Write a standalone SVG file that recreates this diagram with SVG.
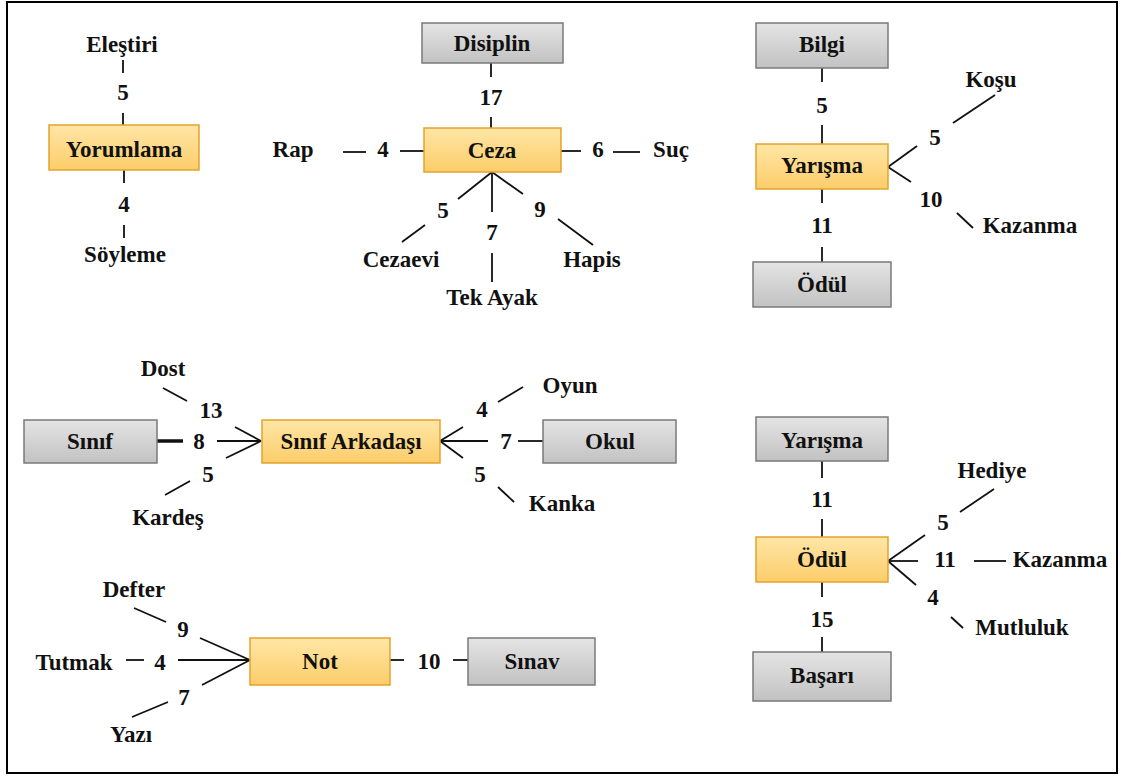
<svg xmlns="http://www.w3.org/2000/svg" width="1121" height="776" viewBox="0 0 1121 776">
<defs>
<linearGradient id="gO" x1="0" y1="0" x2="0" y2="1"><stop offset="0" stop-color="#FFE6A6"/><stop offset="1" stop-color="#FCCD6A"/></linearGradient>
<linearGradient id="gG" x1="0" y1="0" x2="0" y2="1"><stop offset="0" stop-color="#E4E4E4"/><stop offset="1" stop-color="#C2C2C2"/></linearGradient>
<style>
text{font-family:"Liberation Serif","Times New Roman",serif;font-weight:bold;font-size:23px;fill:#111;text-anchor:middle}
.o{fill:url(#gO);stroke:#E3A22C;stroke-width:1.5}
.g{fill:url(#gG);stroke:#7A7A7A;stroke-width:1.5}
#connectors line{stroke:#111;stroke-width:1.8}
#connectors line.thick{stroke-width:3.5}
</style>
</defs>
<rect x="7" y="2" width="1110" height="771" fill="#fff" stroke="#000" stroke-width="2"/>
<g id="connectors">
<line x1="123" y1="60" x2="123" y2="73"/><line x1="123" y1="113" x2="123" y2="125"/>
<line x1="124" y1="170" x2="124" y2="183"/><line x1="124" y1="225" x2="124" y2="238"/>
<line x1="491" y1="63" x2="491" y2="77"/><line x1="491" y1="117" x2="491" y2="128"/>
<line x1="343" y1="152" x2="366" y2="152"/><line x1="400" y1="151" x2="424" y2="151"/>
<line x1="561" y1="151" x2="581" y2="151"/><line x1="613" y1="152" x2="640" y2="152"/>
<line x1="492" y1="172" x2="458" y2="199"/><line x1="492" y1="172" x2="492" y2="212"/><line x1="492" y1="172" x2="523" y2="194"/>
<line x1="425" y1="225" x2="402" y2="242"/><line x1="492" y1="253" x2="492" y2="282"/><line x1="558" y1="219" x2="593" y2="245"/>
<line x1="822" y1="68" x2="822" y2="82"/><line x1="822" y1="125" x2="822" y2="144"/>
<line x1="822" y1="189" x2="822" y2="203"/><line x1="822" y1="247" x2="822" y2="262"/>
<line x1="888" y1="167" x2="917" y2="146"/><line x1="888" y1="167" x2="911" y2="182"/>
<line x1="953" y1="123" x2="995" y2="95"/><line x1="957" y1="213" x2="973" y2="228"/>
<line class="thick" x1="157" y1="441" x2="183" y2="441"/><line x1="217" y1="441" x2="261" y2="441"/>
<line x1="235" y1="427" x2="261" y2="441"/><line x1="226" y1="458" x2="261" y2="441"/>
<line x1="163" y1="388" x2="187" y2="401"/><line x1="165" y1="495" x2="190" y2="481"/>
<line x1="440" y1="441" x2="463" y2="427"/><line x1="440" y1="441" x2="463" y2="458"/><line x1="440" y1="441" x2="488" y2="441"/>
<line x1="518" y1="441" x2="543" y2="441"/>
<line x1="498" y1="402" x2="523" y2="387"/><line x1="498" y1="487" x2="514" y2="502"/>
<line x1="822" y1="461" x2="822" y2="478"/><line x1="822" y1="519" x2="822" y2="537"/>
<line x1="822" y1="582" x2="822" y2="597"/><line x1="822" y1="637" x2="822" y2="652"/>
<line x1="888" y1="561" x2="925" y2="535"/><line x1="888" y1="561" x2="918" y2="561"/><line x1="888" y1="561" x2="916" y2="585"/>
<line x1="960" y1="512" x2="994" y2="489"/><line x1="974" y1="561" x2="1006" y2="561"/><line x1="951" y1="617" x2="963" y2="628"/>
<line x1="390" y1="660" x2="404" y2="660"/><line x1="453" y1="660" x2="468" y2="660"/>
<line x1="200" y1="638" x2="250" y2="660"/><line x1="178" y1="660" x2="250" y2="660"/><line x1="202" y1="685" x2="250" y2="660"/>
<line x1="134" y1="608" x2="166" y2="622"/><line x1="126" y1="660" x2="144" y2="660"/><line x1="132" y1="717" x2="168" y2="702"/>
</g>
<g id="labels">
<text x="123" y="100">5</text><text x="124" y="212">4</text>
<text x="491" y="105">17</text><text x="383" y="157">4</text><text x="598" y="157">6</text>
<text x="443" y="218">5</text><text x="540" y="217">9</text><text x="492" y="240">7</text>
<text x="822" y="113">5</text><text x="822" y="233">11</text><text x="935" y="145">5</text><text x="931" y="207">10</text>
<text x="199" y="449">8</text><text x="211" y="418">13</text><text x="208" y="482">5</text>
<text x="506" y="449">7</text><text x="482" y="417">4</text><text x="480" y="482">5</text>
<text x="822" y="507">11</text><text x="822" y="627">15</text><text x="943" y="530">5</text><text x="945" y="567">11</text><text x="933" y="605">4</text>
<text x="429" y="669">10</text><text x="183" y="637">9</text><text x="160" y="670">4</text><text x="184" y="705">7</text>
</g>
<g id="n-elestiri"><text x="122" y="52">Eleştiri</text></g>
<g id="n-yorumlama"><rect class="o" x="49" y="125" width="150" height="45"/><text x="124" y="157">Yorumlama</text></g>
<g id="n-soyleme"><text x="125" y="262">Söyleme</text></g>
<g id="n-disiplin"><rect class="g" x="422" y="23" width="141" height="40"/><text x="492" y="51">Disiplin</text></g>
<g id="n-ceza"><rect class="o" x="424" y="128" width="137" height="44"/><text x="492" y="158">Ceza</text></g>
<g id="n-rap"><text x="293" y="157">Rap</text></g>
<g id="n-suc"><text x="671" y="157">Suç</text></g>
<g id="n-cezaevi"><text x="401" y="267">Cezaevi</text></g>
<g id="n-hapis"><text x="592" y="267">Hapis</text></g>
<g id="n-tekayak"><text x="492" y="305">Tek Ayak</text></g>
<g id="n-bilgi"><rect class="g" x="756" y="23" width="132" height="45"/><text x="822" y="52">Bilgi</text></g>
<g id="n-yarisma1"><rect class="o" x="756" y="144" width="132" height="45"/><text x="822" y="173">Yarışma</text></g>
<g id="n-odul1"><rect class="g" x="753" y="262" width="138" height="45"/><text x="822" y="292">Ödül</text></g>
<g id="n-kosu"><text x="991" y="87">Koşu</text></g>
<g id="n-kazanma1"><text x="1030" y="233">Kazanma</text></g>
<g id="n-sinif"><rect class="g" x="24" y="420" width="133" height="43"/><text x="90" y="449">Sınıf</text></g>
<g id="n-dost"><text x="163" y="376">Dost</text></g>
<g id="n-kardes"><text x="168" y="525">Kardeş</text></g>
<g id="n-sinifarkadasi"><rect class="o" x="262" y="420" width="178" height="43"/><text x="351" y="449">Sınıf Arkadaşı</text></g>
<g id="n-okul"><rect class="g" x="543" y="420" width="133" height="43"/><text x="610" y="449">Okul</text></g>
<g id="n-oyun"><text x="570" y="393">Oyun</text></g>
<g id="n-kanka"><text x="562" y="511">Kanka</text></g>
<g id="n-yarisma2"><rect class="g" x="756" y="417" width="132" height="44"/><text x="822" y="448">Yarışma</text></g>
<g id="n-odul2"><rect class="o" x="756" y="537" width="132" height="45"/><text x="822" y="567">Ödül</text></g>
<g id="n-basari"><rect class="g" x="753" y="652" width="138" height="49"/><text x="822" y="683">Başarı</text></g>
<g id="n-hediye"><text x="992" y="478">Hediye</text></g>
<g id="n-kazanma2"><text x="1060" y="567">Kazanma</text></g>
<g id="n-mutluluk"><text x="1022" y="635">Mutluluk</text></g>
<g id="n-not"><rect class="o" x="250" y="638" width="140" height="47"/><text x="320" y="669">Not</text></g>
<g id="n-sinav"><rect class="g" x="468" y="638" width="127" height="47"/><text x="532" y="669">Sınav</text></g>
<g id="n-defter"><text x="134" y="597">Defter</text></g>
<g id="n-tutmak"><text x="74" y="670">Tutmak</text></g>
<g id="n-yazi"><text x="131" y="742">Yazı</text></g>
</svg>
